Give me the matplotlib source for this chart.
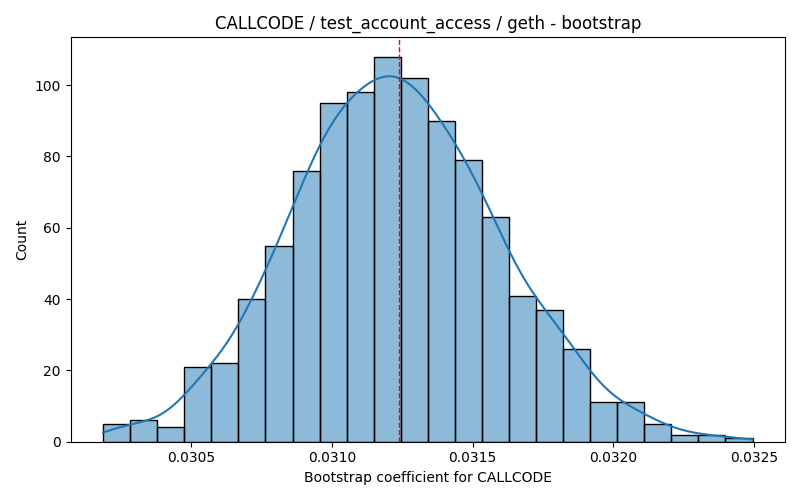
import numpy as np
import pandas as pd
import matplotlib
matplotlib.use("Agg")
import matplotlib.pyplot as plt
import seaborn as sns

# Bin range and counts
bin_start = 0.030186
bin_end = 0.032495
counts = [5, 6, 4, 21, 22, 40, 55, 76, 95, 98, 108, 102,
          90, 79, 63, 41, 37, 26, 11, 11, 5, 2, 2, 1]
mean_value = 0.031238

nbins = len(counts)
binw = (bin_end - bin_start) / nbins
centers = bin_start + binw * (np.arange(nbins) + 0.5)
samples = np.repeat(centers, counts)
df = pd.DataFrame({"coef": samples})

# extend KDE support to the outer bin edges (data range)
bw = len(samples) ** (-1 / 5) * np.std(samples, ddof=1)
cut = (binw / 2) / bw

fig, ax = plt.subplots(figsize=(8, 5), dpi=100)
sns.histplot(data=df, x="coef", bins=nbins, binrange=(bin_start, bin_end),
             kde=True, kde_kws={"cut": cut}, ax=ax)
ax.axvline(mean_value, color="red", linestyle="--", linewidth=1)
ax.set_title("CALLCODE / test_account_access / geth - bootstrap")
ax.set_xlabel("Bootstrap coefficient for CALLCODE")
ax.set_ylabel("Count")
ax.set_xlim(bin_start - 0.05 * (bin_end - bin_start),
            bin_end + 0.05 * (bin_end - bin_start))
ax.set_xticks([0.0305, 0.0310, 0.0315, 0.0320, 0.0325])
ax.set_xticklabels(["0.0305", "0.0310", "0.0315", "0.0320", "0.0325"])
fig.tight_layout()
fig.savefig("out.png")
